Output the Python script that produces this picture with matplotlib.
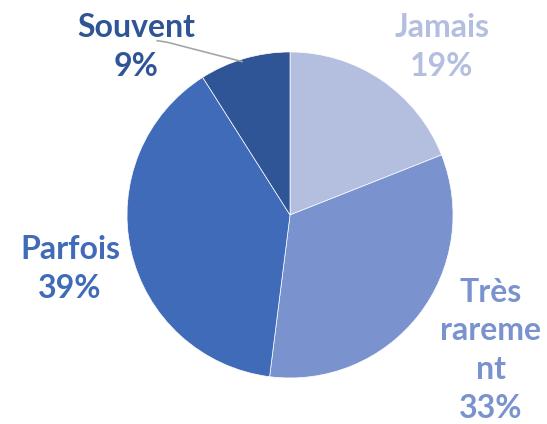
import matplotlib.pyplot as plt

# data
categories = ['Jamais', 'Très\nrareme\nnt', 'Parfois', 'Souvent']
shares = [19, 33, 39, 9]
colors = ['#B4BFDF', '#7A93CF', '#3F6BB8', '#2F5597']

# label block centres in data coords (pie radius = 1)
label_pos = [(0.93, 1.03), (1.23, -0.83), (-1.35, -0.33), (-0.945, 1.03)]

plt.rcParams['font.family'] = ['Lato', 'DejaVu Sans']

fig = plt.figure(figsize=(5.47, 4.24), dpi=100)
ax = fig.add_axes([0.2322, 0.1085, 0.596, 0.769])

ax.pie(shares, colors=colors, startangle=90, counterclock=False,
       wedgeprops=dict(edgecolor='white', linewidth=0.5))

for cat, val, col, (x, y) in zip(categories, shares, colors, label_pos):
    ax.text(x, y, f'{cat}\n{val}%', color=col, fontsize=23, fontweight='bold',
            ha='center', va='center', linespacing=1.4)

# leader line for Souvent
ax.plot([-0.82, -0.755, -0.29], [1.07, 1.06, 0.94], color='#A6A6A6', linewidth=1.2,
        solid_capstyle='butt', clip_on=False)

ax.set_xlim(-1, 1)
ax.set_ylim(-1, 1)
ax.set_aspect('equal')
ax.axis('off')

fig.savefig('out.png', dpi=100)
